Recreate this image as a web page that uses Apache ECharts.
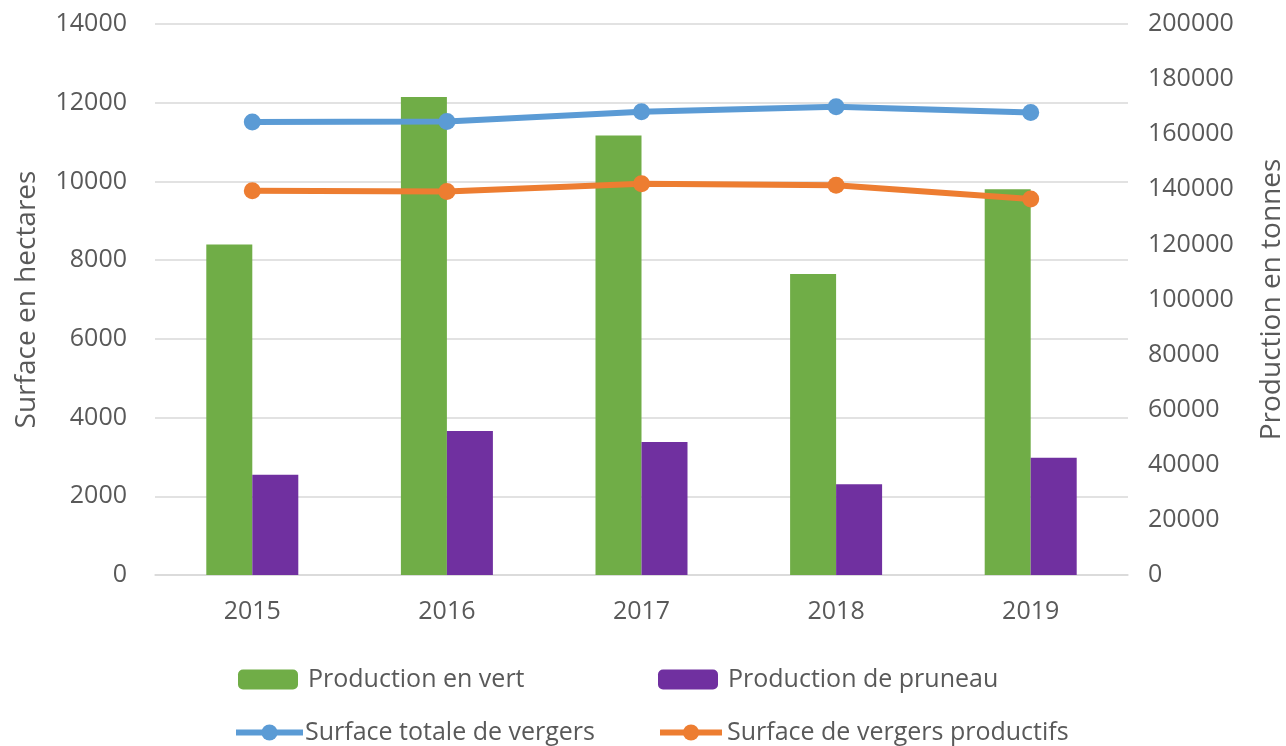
<!DOCTYPE html>
<html lang="fr">
<head>
    <meta charset="UTF-8">
    <title>Vergers de pruniers</title>
    <style>
        html, body { margin: 0; padding: 0; background: #fff; }
        #chart1 { width: 1286px; height: 746px; }
    </style>
</head>
<body>
    <div id="chart1"></div>

    <script src="https://cdn.jsdelivr.net/npm/echarts@6/dist/echarts.min.js"></script>
    <script>
        // données
        var years = ['2015', '2016', '2017', '2018', '2019'];
        var prodVert = [120000, 173500, 159500, 109300, 140000];
        var prodPruneau = [36400, 52300, 48300, 32900, 42600];
        var surfTotale = [11510, 11520, 11770, 11900, 11750];
        var surfProductive = [9765, 9745, 9940, 9900, 9555];

        var txt = '#595959';
        var font = '"Open Sans", "Noto Sans", sans-serif';

        var myChart = echarts.init(document.getElementById('chart1'));

        function leg(name, left, top, w, h, gap) {
            return {
                data: [name],
                left: left,
                top: top,
                padding: 0,
                itemWidth: w,
                itemHeight: h,
                lineStyle: { width: 6 },
                textStyle: { color: txt, fontSize: 25, fontFamily: font, padding: [0, 0, 0, gap] },
                selectedMode: false
            };
        }

        function plain(v) { return String(v); }

        var option = {
            animation: false,
            textStyle: { fontFamily: font },
            grid: { left: 155, right: 158, top: 24, bottom: 171, outerBoundsMode: 'none', containLabel: false },
            legend: [
                leg('Production en vert', 238, 667, 60, 20, 5),
                leg('Production de pruneau', 658, 667, 60, 20, 5),
                leg('Surface totale de vergers', 233, 720, 67, 20, -3),
                leg('Surface de vergers productifs', 657, 720, 62, 20, 0)
            ],
            xAxis: {
                type: 'category',
                data: years,
                axisLine: { lineStyle: { color: '#d9d9d9', width: 1.5 } },
                axisTick: { show: false },
                axisLabel: { color: txt, fontSize: 25, margin: 24 }
            },
            yAxis: [
                {
                    type: 'value',
                    min: 0, max: 14000, interval: 2000,
                    name: 'Surface en hectares',
                    nameLocation: 'middle',
                    nameGap: 114,
                    nameRotate: 90,
                    nameTextStyle: { color: txt, fontSize: 28 },
                    axisLabel: { color: txt, fontSize: 25, margin: 28, formatter: plain },
                    axisLine: { show: false },
                    axisTick: { show: false },
                    splitLine: { lineStyle: { color: '#d9d9d9', width: 1.5 } }
                },
                {
                    type: 'value',
                    min: 0, max: 200000, interval: 20000,
                    name: 'Production en tonnes',
                    nameLocation: 'middle',
                    nameGap: 130,
                    nameRotate: 90,
                    nameTextStyle: { color: txt, fontSize: 28 },
                    axisLabel: { color: txt, fontSize: 25, margin: 20, formatter: plain },
                    axisLine: { show: false },
                    axisTick: { show: false },
                    splitLine: { show: false }
                }
            ],
            series: [
                {
                    name: 'Production en vert',
                    type: 'bar',
                    yAxisIndex: 1,
                    data: prodVert,
                    barWidth: 46,
                    barGap: '0%',
                    itemStyle: { color: '#70ad47' }
                },
                {
                    name: 'Production de pruneau',
                    type: 'bar',
                    yAxisIndex: 1,
                    data: prodPruneau,
                    barWidth: 46,
                    itemStyle: { color: '#7030a0' }
                },
                {
                    name: 'Surface totale de vergers',
                    type: 'line',
                    yAxisIndex: 0,
                    data: surfTotale,
                    symbol: 'circle',
                    symbolSize: 17,
                    lineStyle: { color: '#5b9bd5', width: 6 },
                    itemStyle: { color: '#5b9bd5' }
                },
                {
                    name: 'Surface de vergers productifs',
                    type: 'line',
                    yAxisIndex: 0,
                    data: surfProductive,
                    symbol: 'circle',
                    symbolSize: 17,
                    lineStyle: { color: '#ed7d31', width: 6 },
                    itemStyle: { color: '#ed7d31' }
                }
            ]
        };

        myChart.setOption(option);
    </script>
</body>
</html>
